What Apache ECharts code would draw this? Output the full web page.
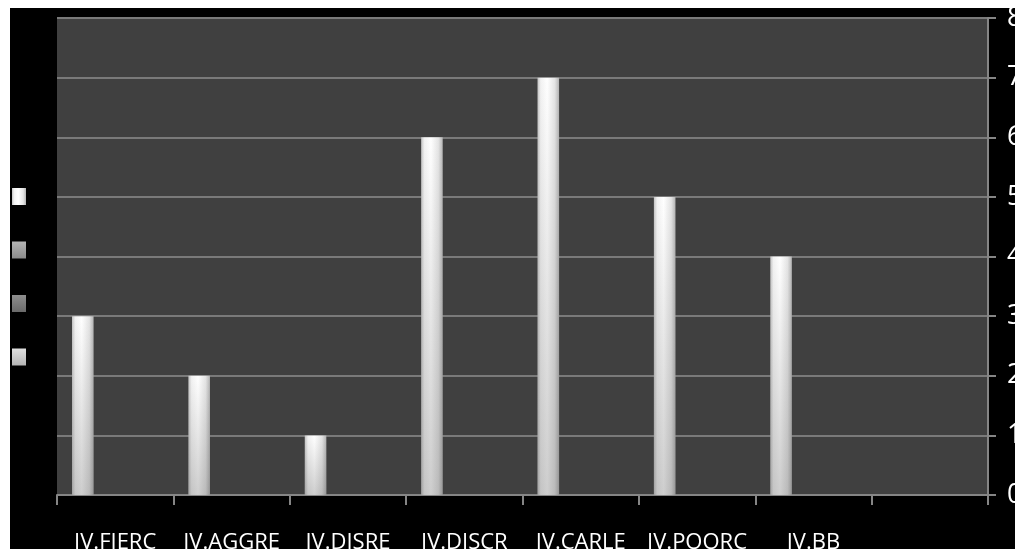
<!DOCTYPE html>
<html>
<head>
<meta charset="utf-8">
<script src="https://cdn.jsdelivr.net/npm/echarts@6/dist/echarts.min.js"></script>
<style>
  html, body { margin: 0; padding: 0; background: #ffffff; width: 1015px; height: 549px; overflow: hidden; }
  #chart { position: absolute; left: 10px; top: 8px; width: 1005px; height: 541px; background: #000000; }
</style>
</head>
<body>
<div id="chart"></div>
<script>
// Category labels (the last slot is an empty category)
const categories = ['IV.FIERC', 'IV.AGGRE', 'IV.DISRE', 'IV.DISCR', 'IV.CARLE', 'IV.POORC', 'IV.BB', ''];
// Values of the only populated series
const seriesValues = [3, 2, 1, 6, 7, 5, 4, null];
// Remaining series carry no values
const emptyValues = [null, null, null, null, null, null, null, null];
const seriesNames = ['Series 1', 'Series 2', 'Series 3', 'Series 4'];
const yTicks = { min: 0, max: 8, interval: 1 };

const font = '"Open Sans", "Noto Sans", sans-serif';

// cylinder-like shading across the bar
const barFill = new echarts.graphic.LinearGradient(0, 0, 1, 0, [
  { offset: 0, color: '#c4c4c4' },
  { offset: 0.15, color: '#f2f2f2' },
  { offset: 0.45, color: '#ffffff' },
  { offset: 0.8, color: '#e4e4e4' },
  { offset: 1, color: '#b4b4b4' }
]);
// darkening toward the base of each bar
const shadeFill = new echarts.graphic.LinearGradient(0, 0, 0, 1, [
  { offset: 0, color: 'rgba(60,60,60,0)' },
  { offset: 1, color: 'rgba(60,60,60,0.25)' }
]);
const legendColors = [
  barFill,
  new echarts.graphic.LinearGradient(0, 0, 0, 1, [{ offset: 0, color: '#b4b4b4' }, { offset: 1, color: '#8a8a8a' }]),
  new echarts.graphic.LinearGradient(0, 0, 0, 1, [{ offset: 0, color: '#8e8e8e' }, { offset: 1, color: '#6a6a6a' }]),
  new echarts.graphic.LinearGradient(0, 0, 0, 1, [{ offset: 0, color: '#e0e0e0' }, { offset: 1, color: '#b4b4b4' }])
];

const barLayout = { barGap: '0%', barCategoryGap: '25.8%' };

const series = [];
seriesNames.forEach((name, i) => {
  series.push(Object.assign({
    name: name,
    type: 'bar',
    xAxisIndex: 0,
    data: i === 0 ? seriesValues : emptyValues,
    itemStyle: { color: legendColors[i] },
    z: 2
  }, barLayout));
});
// overlay layer, laid out on a twin axis so it sits exactly on the first series
['shade', 'pad1', 'pad2', 'pad3'].forEach((name, i) => {
  series.push(Object.assign({
    name: name,
    type: 'bar',
    xAxisIndex: 1,
    data: i === 0 ? seriesValues : emptyValues,
    itemStyle: { color: shadeFill },
    silent: true,
    z: 3
  }, barLayout));
});

const chart = echarts.init(document.getElementById('chart'), null, { renderer: 'canvas' });
chart.setOption({
  backgroundColor: '#000000',
  animation: false,
  grid: {
    left: 47, top: 10, width: 931, height: 477,
    outerBoundsMode: 'none',
    containLabel: false,
    show: true, backgroundColor: '#404040', borderWidth: 0
  },
  legend: {
    data: seriesNames,
    orient: 'vertical',
    left: 2, top: 180,
    padding: 0,
    itemWidth: 14, itemHeight: 17, itemGap: 36.5,
    icon: 'rect',
    formatter: () => '',
    textStyle: { fontSize: 1 },
    selectedMode: false
  },
  xAxis: [{
    type: 'category',
    data: categories,
    axisLine: { lineStyle: { color: '#858585', width: 2 } },
    axisTick: { show: true, length: 10, alignWithLabel: false, lineStyle: { color: '#858585', width: 2 } },
    axisLabel: { color: '#ffffff', fontSize: 22, fontFamily: font, margin: 37, interval: 0 },
    splitLine: { show: false }
  }, {
    type: 'category',
    data: categories,
    show: false
  }],
  yAxis: {
    type: 'value',
    position: 'right',
    min: yTicks.min, max: yTicks.max, interval: yTicks.interval,
    axisLine: { show: true, lineStyle: { color: '#858585', width: 2 } },
    axisTick: { show: true, length: 8, lineStyle: { color: '#858585', width: 2 } },
    axisLabel: { color: '#ffffff', fontSize: 27, fontFamily: font, margin: 19 },
    splitLine: { show: true, lineStyle: { color: '#7a7a7a', width: 2 } }
  },
  series: series
});
</script>
</body>
</html>
